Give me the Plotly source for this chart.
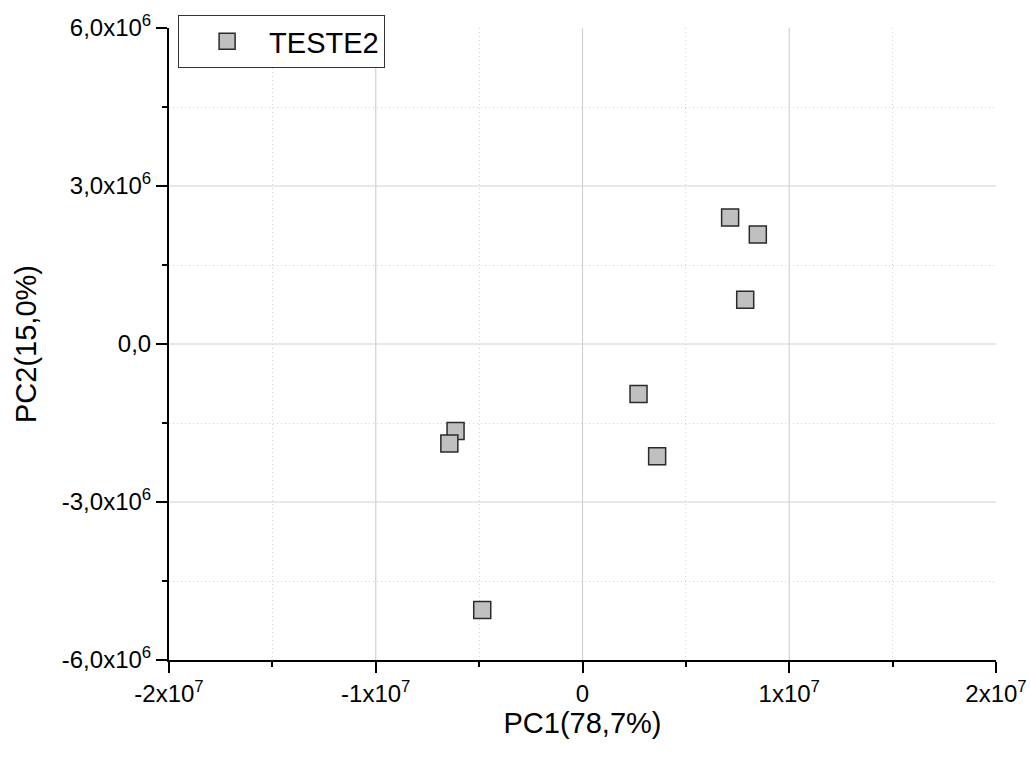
import plotly.graph_objects as go

pc1 = [7.14e6, 8.48e6, 7.87e6, 2.71e6, 3.61e6, -6.14e6, -6.44e6, -4.85e6]
pc2 = [2.40e6, 2.08e6, 0.84e6, -0.95e6, -2.13e6, -1.65e6, -1.89e6, -5.05e6]
series_name = "TESTE2"

x_tickvals = [-2e7, -1e7, 0, 1e7, 2e7]
x_ticktext = ["-2x10<sup>7</sup>", "-1x10<sup>7</sup>", "0", "1x10<sup>7</sup>", "2x10<sup>7</sup>"]
x_minor = [-1.5e7, -5e6, 5e6, 1.5e7]
x_grid = [-1e7, 0, 1e7]
y_tickvals = [-6e6, -3e6, 0, 3e6, 6e6]
y_ticktext = ["-6,0x10<sup>6</sup>", "-3,0x10<sup>6</sup>", "0,0", "3,0x10<sup>6</sup>", "6,0x10<sup>6</sup>"]
y_minor = [-4.5e6, -1.5e6, 1.5e6, 4.5e6]
y_grid = [-3e6, 0, 3e6]

FONT = "Arial, 'Liberation Sans', sans-serif"
GRID = "#d2d2d2"

fig = go.Figure()
fig.add_trace(go.Scatter(
    x=pc1, y=pc2, mode="markers", name=series_name,
    marker=dict(symbol="square", size=17, color="#c0c0c0",
                line=dict(color="#2a2a2a", width=1.5)),
    showlegend=True,
))

# major gridlines (inner values only, as in the reference)
for gx in x_grid:
    fig.add_shape(type="line", xref="x", yref="paper", x0=gx, x1=gx, y0=0, y1=1,
                  line=dict(color=GRID, width=1.2), layer="below")
for gy in y_grid:
    fig.add_shape(type="line", xref="paper", yref="y", x0=0, x1=1, y0=gy, y1=gy,
                  line=dict(color=GRID, width=1.2), layer="below")

axis_common = dict(
    showline=True, linecolor="black", linewidth=2,
    ticks="outside", ticklen=11, tickwidth=2, tickcolor="black",
    showgrid=False, zeroline=False, tickmode="array",
    tickfont=dict(family=FONT, size=24, color="black"),
)
minor_common = dict(tickmode="array", ticks="outside", ticklen=5, tickwidth=2,
                    tickcolor="black", showgrid=True, gridcolor=GRID,
                    griddash="1px,3px", gridwidth=1)

fig.update_xaxes(
    range=[-2e7, 2e7], tickvals=x_tickvals, ticktext=x_ticktext,
    title=dict(text="PC1(78,7%)", font=dict(family=FONT, size=29, color="black"), standoff=1),
    minor=dict(tickvals=x_minor, **minor_common),
    automargin="bottom",
    **axis_common,
)
fig.update_yaxes(
    range=[-6e6, 6e6], tickvals=y_tickvals, ticktext=y_ticktext,
    title=dict(text="PC2(15,0%)", font=dict(family=FONT, size=29, color="black"), standoff=17),
    minor=dict(tickvals=y_minor, **minor_common),
    automargin="left",
    **axis_common,
)

fig.update_layout(
    width=1031, height=765,
    margin=dict(l=169, r=35, t=28, b=105),
    paper_bgcolor="white", plot_bgcolor="white",
    font=dict(family=FONT, color="black"),
    legend=dict(
        x=0.011, y=1.0206, xanchor="left", yanchor="top",
        bgcolor="white", bordercolor="#333333", borderwidth=1,
        font=dict(family=FONT, size=29, color="black"),
        itemwidth=74, indentation=6,
    ),
)

fig.write_html("out.html")
